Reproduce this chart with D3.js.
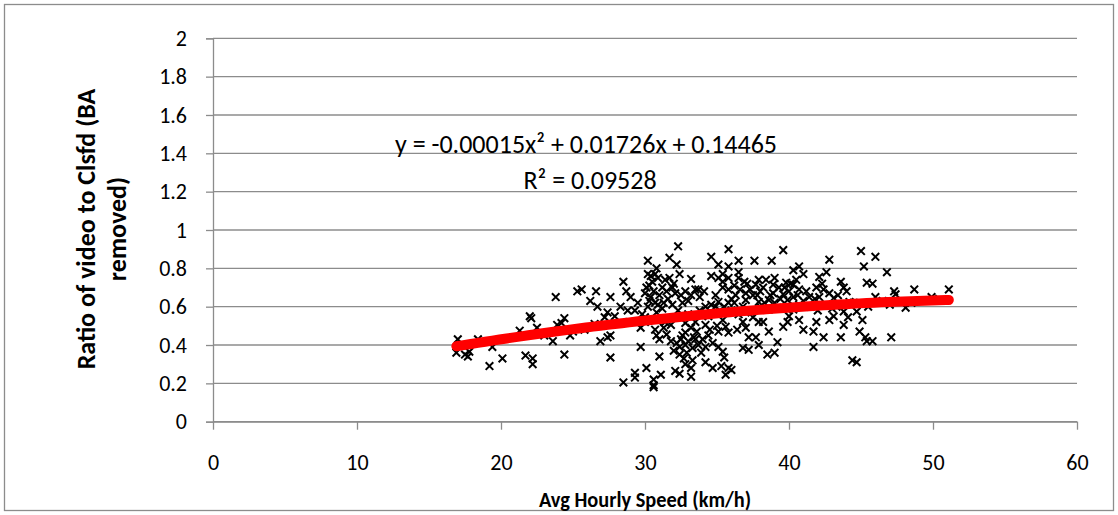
<!DOCTYPE html>
<html>
<head>
<meta charset="utf-8">
<script src="https://cdn.jsdelivr.net/npm/d3@7"></script>
<style>
  body { margin: 0; background: #fff; }
  text { font-family: Calibri, Carlito, Lato, sans-serif; fill: #000; }
</style>
</head>
<body>
<div id="chart"></div>
<script>
// avg hourly speed (km/h) of each observation
const speed = [
  17.0, 16.9, 17.5, 17.7, 17.8, 19.2, 19.4, 20.1, 18.4, 21.3, 21.7, 22.2, 22.2, 22.5, 23.6, 24.4, 23.9, 24.4, 24.2, 25.0, 22.0, 22.1,
  23.8, 25.3,
  25.6, 26.6, 26.2, 26.7, 27.6, 28.5, 28.7, 29.0, 28.3, 27.4, 30.2, 31.7, 32.3, 32.2, 34.6, 30.2, 30.7, 30.1, 30.0, 30.4,
  30.9, 30.2, 31.4, 31.7, 32.4, 33.2, 33.5, 33.7, 32.8, 33.2, 32.1, 31.6, 31.9, 32.6, 32.3, 34.6, 34.6, 34.2, 29.3, 30.8,
  26.9, 27.6, 27.4, 27.6, 28.5, 29.3, 29.3, 30.1, 30.6, 30.6, 30.6, 31.1, 31.0, 29.7, 29.7, 30.7, 31.0, 31.5, 31.3, 31.8,
  32.1, 32.4, 33.2, 32.4, 32.8, 33.2, 33.3, 32.4, 32.5, 32.8, 33.3, 33.5, 32.8, 33.2, 32.8, 33.5, 34.2, 34.0, 34.2, 34.2,
  34.7, 34.7, 34.5, 30.0, 27.9, 27.2,
  35.8, 39.6, 36.5, 37.6, 38.8, 42.8, 35.1, 35.8, 36.5, 35.4, 35.1, 35.8, 35.4, 36.5, 40.3, 40.7, 41.0, 42.1, 42.6, 43.6,
  43.8, 37.9, 38.4, 37.7, 38.9, 38.2, 35.4, 35.8, 39.8, 40.3, 40.7, 40.0, 39.6, 40.3, 39.9, 41.9, 42.4, 42.8, 42.1, 43.1,
  41.4, 36.3, 37.0, 37.5, 37.0, 37.9, 38.6, 35.1, 35.8, 40.7, 41.5, 42.6, 43.3, 44.2, 38.6, 39.6, 40.3, 43.8,
  35.4, 35.6, 35.1, 35.8, 35.1, 35.4, 35.5, 35.3, 35.8, 36.0, 35.6, 36.8, 37.0, 37.5, 37.9, 36.8, 37.2, 37.7, 37.9, 37.2,
  38.5, 39.0, 39.2, 38.6, 39.6, 39.9, 40.7, 41.0, 41.7, 41.9, 41.7, 42.4, 43.6, 43.8, 43.1, 44.1, 44.4,
  45.0, 46.0, 45.2, 46.8, 45.4, 45.8, 46.0, 47.3, 47.4, 48.7, 49.9, 51.1, 48.1, 44.7,
  45.1, 44.9, 45.3, 45.8, 45.4, 47.1, 44.7,
  33.0, 33.8, 34.4, 36.0, 36.8, 37.4, 38.0, 39.0, 41.0, 42.0, 44.5, 45.5, 46.5, 47.0, 48.5, 50.0, 43.0, 36.5, 34.9, 31.2,
  29.8, 26.5, 25.8, 28.9, 27.0, 24.8, 23.0,
  30.5, 30.9, 31.2, 30.6, 31.0, 30.3, 32.0, 31.3, 30.8, 30.4,
  32.6, 33.0, 33.6, 32.2, 33.9, 32.7, 33.4,
  36.2, 36.9, 38.0, 38.7, 39.3, 39.0, 40.5, 37.3, 36.0, 35.5,
  30.3, 30.7, 31.5, 31.9, 32.5, 33.0, 33.8, 34.1, 34.9, 35.2, 36.2, 36.6, 37.1, 37.8, 38.3, 38.9, 39.4, 39.7, 40.1, 40.6,
  41.2, 41.8, 42.3, 43.4, 44.0, 31.8, 32.0, 32.9, 33.7, 34.4, 31.4, 30.8, 29.5, 28.8, 30.0, 35.0, 36.4, 38.2, 40.0, 42.8
];
// ratio of video to classified counts, same order as speed
const ratio = [
  0.43, 0.36, 0.35, 0.34, 0.365, 0.29, 0.39, 0.33, 0.43, 0.475, 0.345, 0.33, 0.30, 0.49, 0.42, 0.35, 0.505, 0.54, 0.515, 0.47, 0.55, 0.54,
  0.65, 0.68,
  0.69, 0.68, 0.63, 0.60, 0.65, 0.73, 0.68, 0.65, 0.60, 0.57, 0.84, 0.855, 0.915, 0.82, 0.86, 0.77, 0.77, 0.70, 0.67, 0.65,
  0.61, 0.60, 0.74, 0.75, 0.77, 0.745, 0.69, 0.69, 0.68, 0.66, 0.67, 0.64, 0.61, 0.62, 0.58, 0.76, 0.61, 0.60, 0.58, 0.57,
  0.42, 0.45, 0.44, 0.335, 0.205, 0.255, 0.23, 0.28, 0.22, 0.19, 0.18, 0.245, 0.34, 0.39, 0.49, 0.48, 0.43, 0.455, 0.49, 0.505,
  0.265, 0.25, 0.235, 0.35, 0.30, 0.28, 0.32, 0.39, 0.43, 0.40, 0.385, 0.43, 0.465, 0.49, 0.515, 0.52, 0.505, 0.43, 0.39, 0.31,
  0.41, 0.28, 0.48, 0.545, 0.55, 0.545,
  0.90, 0.895, 0.84, 0.84, 0.84, 0.845, 0.82, 0.81, 0.78, 0.77, 0.75, 0.75, 0.73, 0.75, 0.79, 0.81, 0.77, 0.755, 0.78, 0.73,
  0.70, 0.74, 0.74, 0.715, 0.715, 0.70, 0.70, 0.69, 0.725, 0.715, 0.69, 0.68, 0.665, 0.65, 0.635, 0.70, 0.69, 0.67, 0.65, 0.645,
  0.65, 0.66, 0.67, 0.66, 0.635, 0.625, 0.635, 0.625, 0.62, 0.61, 0.60, 0.61, 0.60, 0.625, 0.585, 0.595, 0.585, 0.575,
  0.53, 0.495, 0.47, 0.465, 0.39, 0.365, 0.335, 0.29, 0.28, 0.27, 0.245, 0.52, 0.49, 0.545, 0.52, 0.385, 0.375, 0.44, 0.40, 0.44,
  0.35, 0.36, 0.415, 0.47, 0.495, 0.52, 0.53, 0.48, 0.47, 0.52, 0.39, 0.44, 0.44, 0.505, 0.55, 0.545, 0.32,
  0.89, 0.86, 0.81, 0.78, 0.725, 0.72, 0.65, 0.68, 0.665, 0.69, 0.65, 0.69, 0.595, 0.575,
  0.53, 0.47, 0.44, 0.42, 0.42, 0.44, 0.31,
  0.56, 0.58, 0.55, 0.58, 0.60, 0.57, 0.60, 0.62, 0.63, 0.58, 0.62, 0.60, 0.63, 0.61, 0.62, 0.64, 0.59, 0.56, 0.60, 0.59,
  0.56, 0.51, 0.48, 0.52, 0.50, 0.45, 0.45,
  0.73, 0.75, 0.70, 0.68, 0.66, 0.63, 0.72, 0.62, 0.80, 0.76,
  0.45, 0.42, 0.47, 0.41, 0.36, 0.33, 0.44,
  0.71, 0.73, 0.68, 0.66, 0.70, 0.75, 0.74, 0.69, 0.64, 0.60,
  0.71, 0.62, 0.68, 0.70, 0.66, 0.63, 0.65, 0.68, 0.66, 0.58, 0.62, 0.69, 0.72, 0.66, 0.62, 0.67, 0.64, 0.70, 0.72, 0.66,
  0.68, 0.64, 0.72, 0.66, 0.68, 0.42, 0.37, 0.36, 0.40, 0.45, 0.52, 0.45, 0.62, 0.58, 0.52, 0.50, 0.48, 0.52, 0.55, 0.53
];

const xTicks = [0, 10, 20, 30, 40, 50, 60];
const yTicks = [0, 0.2, 0.4, 0.6, 0.8, 1, 1.2, 1.4, 1.6, 1.8, 2];
// polynomial trendline coefficients as printed on the chart: a*x^2 + b*x + c
const trendCoef = [-0.00015, 0.01726, 0.14465];
const eqLabel = "y = -0.00015x² + 0.01726x + 0.14465";
const r2Label = "R² = 0.09528";
const xTitle = "Avg Hourly Speed (km/h)";
const yTitleLines = ["Ratio of video to Clsfd (BA", "removed)"];

const W = 1118, H = 515;
const margin = { top: 38.3, right: 41, bottom: 93.3, left: 213 };
const width = W - margin.left - margin.right;
const height = H - margin.top - margin.bottom;
const gridColor = "#8c8c8c";

const svg = d3.select("#chart").append("svg")
  .attr("width", W)
  .attr("height", H);

svg.append("rect")
  .attr("x", 0).attr("y", 0).attr("width", W).attr("height", H)
  .attr("fill", "#fff");

// outer chart border
svg.append("rect")
  .attr("x", 4.5).attr("y", 4.5)
  .attr("width", W - 9).attr("height", H - 9)
  .attr("fill", "none")
  .attr("stroke", gridColor)
  .attr("stroke-width", 1.3);

const g = svg.append("g")
  .attr("transform", "translate(" + margin.left + "," + margin.top + ")");

const x = d3.scaleLinear().domain([0, 60]).range([0, width]);
const y = d3.scaleLinear().domain([0, 2]).range([height, 0]);

// horizontal gridlines
g.append("g")
  .selectAll("line")
  .data(yTicks)
  .enter().append("line")
  .attr("x1", 0).attr("x2", width)
  .attr("y1", d => y(d)).attr("y2", d => y(d))
  .attr("stroke", gridColor)
  .attr("stroke-width", 1.3);

// y axis
const yAxis = g.append("g")
  .call(d3.axisLeft(y).tickValues(yTicks).tickSize(7).tickPadding(19).tickFormat(d => d3.format("")(+d.toFixed(1))));
yAxis.selectAll("line, path").attr("stroke", gridColor).attr("stroke-width", 1.3);
yAxis.selectAll("text").style("font-size", "22px").attr("fill", "#000");

// x axis
const xAxis = g.append("g")
  .attr("transform", "translate(0," + height + ")")
  .call(d3.axisBottom(x).tickValues(xTicks).tickSize(8).tickPadding(25).tickSizeOuter(0));
xAxis.selectAll("line, path").attr("stroke", gridColor).attr("stroke-width", 1.3);
xAxis.selectAll("text").style("font-size", "22px").attr("fill", "#000");

// scatter markers
const pts = speed.map((s, i) => ({ s: s, r: ratio[i] }));
g.append("g")
  .selectAll("path")
  .data(pts)
  .enter().append("path")
  .attr("transform", d => "translate(" + x(d.s) + "," + y(d.r) + ")")
  .attr("d", "M-3.8,-3.8L3.8,3.8M-3.8,3.8L3.8,-3.8")
  .attr("stroke", "#000")
  .attr("stroke-width", 2)
  .attr("fill", "none");

// trendline across the data range
const xMin = d3.min(speed), xMax = d3.max(speed);
const trendX = d3.range(xMin, xMax, 0.5).concat([xMax]);
const trend = trendX.map(v => ({ s: v, r: trendCoef[0] * v * v + trendCoef[1] * v + trendCoef[2] }));
g.append("path")
  .datum(trend)
  .attr("d", d3.line().x(d => x(d.s)).y(d => y(d.r)))
  .attr("fill", "none")
  .attr("stroke", "#ff0000")
  .attr("stroke-width", 10)
  .attr("stroke-linecap", "round");

// equation labels
svg.append("text")
  .attr("x", 586).attr("y", 153)
  .attr("text-anchor", "middle")
  .style("font-size", "26px")
  .text(eqLabel);
svg.append("text")
  .attr("x", 590).attr("y", 189)
  .attr("text-anchor", "middle")
  .style("font-size", "26px")
  .text(r2Label);

// axis titles
svg.append("text")
  .attr("x", margin.left + width / 2).attr("y", 507)
  .attr("text-anchor", "middle")
  .attr("textLength", 212)
  .attr("lengthAdjust", "spacingAndGlyphs")
  .style("font-size", "22px")
  .style("font-weight", "bold")
  .text(xTitle);

const yt = svg.append("text")
  .attr("transform", "translate(95,229) rotate(-90)")
  .attr("text-anchor", "middle")
  .style("font-size", "26px")
  .style("font-weight", "bold");
yt.selectAll("tspan")
  .data(yTitleLines)
  .enter().append("tspan")
  .attr("x", 0)
  .attr("dy", (d, i) => i === 0 ? 0 : 31)
  .text(d => d);
</script>
</body>
</html>
